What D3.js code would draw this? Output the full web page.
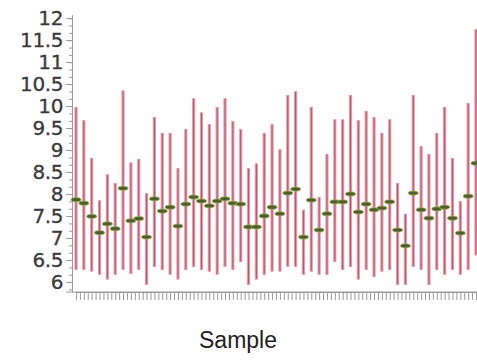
<!DOCTYPE html>
<html>
<head>
<meta charset="utf-8">
<script src="https://cdn.jsdelivr.net/npm/d3@7"></script>
<style>
    body { margin: 0; background: #fff; }
    .axis path, .axis line { stroke: #9a9a9a; }
    .axis text { fill: #3a3a3a; font-family: "DejaVu Sans", sans-serif; font-size: 20px; }
</style>
</head>
<body>
<div id="chart"></div>
<script>
// one entry per sample
var highs = [9.98, 9.68, 8.82, 7.86, 8.45, 8.25, 10.36, 8.72, 8.80, 8.02,
    9.75, 9.39, 9.39, 8.59, 9.48, 10.18, 9.86, 9.59, 9.98, 10.18,
    9.66, 9.48, 8.59, 8.70, 9.39, 9.59, 9.02, 10.25, 10.34, 7.64,
    9.98, 7.93, 8.91, 9.70, 9.70, 10.25, 9.68, 9.89, 9.75, 9.39,
    9.70, 8.25, 7.55, 10.25, 9.09, 8.91, 9.39, 9.98, 8.82, 7.84,
    10.07, 11.75];
var lows = [6.27, 6.27, 6.23, 6.16, 6.05, 6.16, 6.27, 6.18, 6.27, 5.93,
    6.34, 6.27, 6.16, 6.05, 6.27, 6.34, 6.27, 6.23, 6.16, 6.34,
    6.27, 6.45, 5.93, 6.05, 6.16, 6.23, 6.23, 6.34, 6.34, 6.16,
    6.23, 6.16, 6.16, 6.45, 6.27, 6.34, 6.05, 6.27, 6.11, 6.23,
    6.27, 5.93, 5.93, 6.34, 6.27, 5.93, 6.27, 6.16, 6.27, 6.16,
    6.27, 6.60];
var means = [7.87, 7.79, 7.49, 7.12, 7.32, 7.21, 8.13, 7.39, 7.44, 7.02,
    7.89, 7.61, 7.70, 7.27, 7.77, 7.93, 7.84, 7.73, 7.84, 7.89,
    7.79, 7.77, 7.25, 7.25, 7.50, 7.70, 7.55, 8.02, 8.11, 7.02,
    7.86, 7.18, 7.55, 7.82, 7.82, 8.00, 7.59, 7.77, 7.64, 7.68,
    7.82, 7.18, 6.82, 8.02, 7.64, 7.45, 7.66, 7.70, 7.45, 7.11,
    7.95, 8.70];
var yTicks = [6, 6.5, 7, 7.5, 8, 8.5, 9, 9.5, 10, 10.5, 11, 11.5, 12];
var title = "Sample";

var width = 477,
    height = 362;

var svg = d3.select("#chart")
    .append("svg")
    .attr("width", width)
    .attr("height", height);

var samples = d3.range(highs.length);

var x = d3.scaleLinear()
    .domain([0, samples.length - 1])
    .range([76, 476]);

var y = d3.scaleLinear()
    .domain([5.77, 12.07])
    .range([292, 15]);

// minor ticks on y
var minor = d3.range(5.83, 12.07, 0.5 / 3);
svg.append("g")
    .attr("class", "axis")
    .attr("transform", "translate(72,0)")
    .call(d3.axisLeft(y).tickValues(minor).tickSize(3).tickSizeOuter(0).tickFormat(""));

var yAxis = svg.append("g")
    .attr("class", "axis")
    .attr("transform", "translate(72,0)")
    .call(d3.axisLeft(y).tickValues(yTicks).tickSize(6).tickSizeOuter(0).tickPadding(3)
        .tickFormat(function (d) { return String(d) }));

yAxis.selectAll("text").style("letter-spacing", "-0.4px").style("stroke", "#3a3a3a").style("stroke-width", 0.3);

// x axis, no labels, a tick every half sample
svg.append("g")
    .attr("class", "axis")
    .attr("transform", "translate(0,292)")
    .call(d3.axisBottom(x).tickValues(d3.range(0, samples.length - 0.5, 0.5)).tickSize(8).tickSizeOuter(0).tickFormat(""));

svg.append("line")
    .attr("x1", 66).attr("x2", width)
    .attr("y1", 292).attr("y2", 292)
    .attr("stroke", "#9a9a9a");

var bars = svg.append("g");

bars.selectAll("line.outer")
    .data(samples)
    .enter()
    .append("line")
    .attr("class", "outer")
    .attr("x1", function (d) { return x(d) })
    .attr("x2", function (d) { return x(d) })
    .attr("y1", function (d) { return y(highs[d]) })
    .attr("y2", function (d) { return y(lows[d]) })
    .attr("stroke", "#f095a8")
    .attr("stroke-width", 3.2);

bars.selectAll("line.inner")
    .data(samples)
    .enter()
    .append("line")
    .attr("class", "inner")
    .attr("x1", function (d) { return x(d) })
    .attr("x2", function (d) { return x(d) })
    .attr("y1", function (d) { return y(highs[d]) + 1 })
    .attr("y2", function (d) { return y(lows[d]) - 1 })
    .attr("stroke", "#a85a6a")
    .attr("stroke-width", 1);

bars.selectAll("ellipse")
    .data(samples)
    .enter()
    .append("ellipse")
    .attr("cx", function (d) { return x(d) })
    .attr("cy", function (d) { return y(means[d]) })
    .attr("rx", 5)
    .attr("ry", 2.1)
    .attr("fill", "#4f5f2c")
    .attr("stroke", "#9cb85a")
    .attr("stroke-width", 0.8);

svg.append("text")
    .attr("x", 238)
    .attr("y", 348)
    .attr("text-anchor", "middle")
    .style("font-family", "'Liberation Sans', Arial, sans-serif")
    .style("font-size", "23px")
    .style("fill", "#1e1e1e")
    .text(title);
</script>
</body>
</html>
